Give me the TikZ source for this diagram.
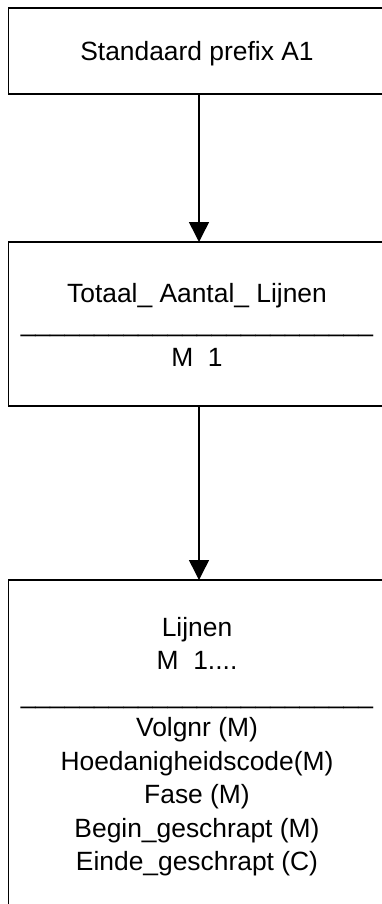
\documentclass[tikz,border=0pt]{standalone}
\usepackage{fontspec}
\setmainfont{Liberation Sans}
\usetikzlibrary{arrows.meta}

\tikzstyle{blok} = [draw, rectangle, line width=1.5pt, minimum width=381pt, inner sep=0pt, outer sep=0pt, anchor=north west]
\tikzstyle{tekst} = [inner sep=0pt, anchor=base, font=\fontsize{26.4}{33.5}\selectfont]
\tikzstyle{pijl} = [line width=1.5pt, -{Triangle[length=20pt,width=20pt]}]
\newcommand{\streep}{\_\_\_\_\_\_\_\_\_\_\_\_\_\_\_\_\_\_\_\_\_\_\_\_}
\newcommand{\meerdere}{M\ \ 1....}

\begin{document}
\begin{tikzpicture}[x=1pt,y=-1pt]
      \useasboundingbox (0,0) rectangle (382,904);
      \clip (0,0) rectangle (382,904);
      % blokken
      \node[blok, minimum height=86pt] (prefix) at (8.5,8) {};
      \node[blok, minimum height=164pt] (totaal) at (8.5,242) {};
      \node[blok, minimum height=340pt] (lijnen) at (8.5,580) {};
      % teksten
      \node[tekst] (prefixtxt) at (197,61) {Standaard prefix A1};
      \node[tekst] (totaaltxt) at (197,302) {Totaal\_ Aantal\_ Lijnen};
      \node[tekst] (totaalstreep) at (197,331) {\streep};
      \node[tekst] (totaalm) at (197,366) {M\ \ 1};
      \foreach \regel [count=\i] in {Lijnen, \meerdere, \streep, Volgnr (M), Hoedanigheidscode(M), Fase (M), Begin\_geschrapt (M), Einde\_geschrapt (C)}
        \node[tekst] (regel\i) at (197,{636+33.5*(\i-1)}) {\regel};
      % pijlen
      \draw[pijl] (prefix.south) -- (totaal.north);
      \draw[pijl] (totaal.south) -- (lijnen.north);
    \end{tikzpicture}
\end{document}
